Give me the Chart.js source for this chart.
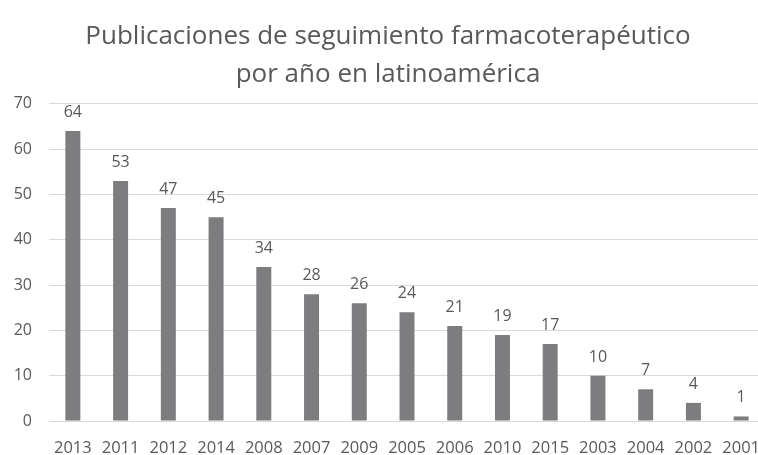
<!DOCTYPE html>
<html>
<head>
<meta charset="utf-8">
<script src="https://cdn.jsdelivr.net/npm/chart.js@4.4.1/dist/chart.umd.min.js"></script>
<style>
html,body{margin:0;padding:0;background:#fff;overflow:hidden;width:758px;height:455px;}
canvas{display:block;}
</style>
</head>
<body>
<canvas id="c" width="790" height="455" style="width:790px;height:455px;"></canvas>
<script>
const categories = ["2013","2011","2012","2014","2008","2007","2009","2005","2006","2010","2015","2003","2004","2002","2001"];
const publicaciones = [64,53,47,45,34,28,26,24,21,19,17,10,7,4,1];
const yTicks = [0,10,20,30,40,50,60,70];
const titleLines = ["Publicaciones de seguimiento farmacoterapéutico","por año en latinoamérica"];

const FONT = "'Open Sans', 'Liberation Sans', sans-serif";
const GRAY = "#595959";

const labelPlugin = {
  id: 'valueLabels',
  afterDatasetsDraw(chart) {
    const ctx = chart.ctx;
    const meta = chart.getDatasetMeta(0);
    ctx.save();
    ctx.font = "16px " + FONT;
    ctx.fillStyle = GRAY;
    ctx.textAlign = 'center';
    ctx.textBaseline = 'alphabetic';
    meta.data.forEach((bar, i) => {
      ctx.fillText(String(chart.data.datasets[0].data[i]), bar.x, bar.y - 14);
    });
    ctx.restore();
  }
};

new Chart(document.getElementById('c'), {
  type: 'bar',
  data: {
    labels: categories,
    datasets: [{
      data: publicaciones,
      backgroundColor: '#7d7d80',
      categoryPercentage: 1,
      barPercentage: 0.314
    }]
  },
  options: {
    responsive: false,
    animation: false,
    layout: { padding: { left: 11, top: 0, bottom: 0, right: 25 } },
    plugins: {
      legend: { display: false },
      tooltip: { enabled: false },
      title: {
        display: true,
        text: titleLines,
        color: GRAY,
        font: { family: FONT, size: 26, weight: 'normal', lineHeight: 1.46 },
        padding: { top: 18, bottom: 10 }
      }
    },
    scales: {
      x: {
        afterFit(axis) { axis.height = 34; },
        grid: { display: false },
        border: { color: '#d9d9d9' },
        ticks: { color: GRAY, font: { family: FONT, size: 16.5 }, maxRotation: 0, minRotation: 0, autoSkip: false, padding: 9 }
      },
      y: {
        min: 0, max: 70,
        afterFit(axis) { axis.width = 38; },
        afterBuildTicks(axis) { axis.ticks = yTicks.map(v => ({ value: v })); },
        grid: { color: '#d9d9d9', drawTicks: false },
        border: { display: false },
        ticks: { color: GRAY, font: { family: FONT, size: 16 }, padding: 17 }
      }
    }
  },
  plugins: [labelPlugin]
});
</script>
</body>
</html>
